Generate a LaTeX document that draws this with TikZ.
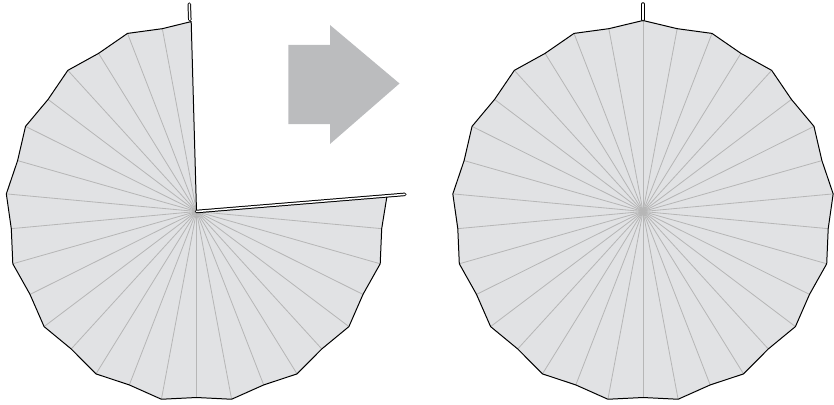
\documentclass[tikz,border=0pt]{standalone}
\usepackage{tikz}

\definecolor{plategray}{HTML}{E1E2E4}
\definecolor{spokegray}{HTML}{B6B6B6}
\definecolor{arrowgray}{HTML}{BBBCBE}

\tikzset{
	rim/.style={draw=black, line width=0.85pt, line join=round},
	spoke/.style={draw=spokegray, line width=0.7pt},
	tabline/.style={draw=black, line width=0.85pt, double=white, double distance=1.3pt, line cap=round},
}

\begin{document}
\begin{tikzpicture}[x=0.3mm, y=0.3mm]
	
	\useasboundingbox (0,0) rectangle (834,404);
	
	% ================= 左图：剪开的圆片 =================
	\begin{scope}[shift={(196.5,192.5)}]
		\coordinate (lc) at (0,0);
		\coordinate (ltop) at (91.6:190);
		\coordinate (lright) at (4.5:191);
		
		\fill[plategray] (lc) -- (lright)
			\foreach \k in {9,...,33}{ -- ({90-\k*360/34}:{191-5*mod(\k,2)}) }
			-- (ltop) -- cycle;
		
		% 折痕
		\foreach \k in {9,...,33}
			\draw[spoke] (lc) -- ({90-\k*360/34}:{191-5*mod(\k,2)});
		
		% 外缘与剪开的边
		\draw[rim] (lright)
			\foreach \k in {9,...,33}{ -- ({90-\k*360/34}:{191-5*mod(\k,2)}) }
			-- (ltop) -- (lc);
		
		% 粘贴边
		\draw[tabline] (lc) -- (4.7:209);
		\draw[tabline] (92:192) -- (92:207.5);
	\end{scope}
	
	% 箭头
	\fill[arrowgray] (288.3,280) -- (330,280) -- (330,260) -- (399.5,320.5)
		-- (330,379) -- (330,359) -- (288.3,359) -- cycle;
	
	% ================= 右图：合拢后的圆片 =================
	\begin{scope}[shift={(643,192.5)}]
		\coordinate (rc) at (0,0);
		
		\fill[plategray] (90:191)
			\foreach \k in {1,...,33}{ -- ({90-\k*360/34}:{191-5*mod(\k,2)}) } -- cycle;
		
		\foreach \k in {0,...,33}
			\draw[spoke] (rc) -- ({90-\k*360/34}:{191-5*mod(\k,2)});
		
		\draw[rim] (90:191)
			\foreach \k in {1,...,33}{ -- ({90-\k*360/34}:{191-5*mod(\k,2)}) } -- cycle;
		
		\draw[tabline] (90:192) -- (90:207.5);
	\end{scope}
	
\end{tikzpicture}
\end{document}
